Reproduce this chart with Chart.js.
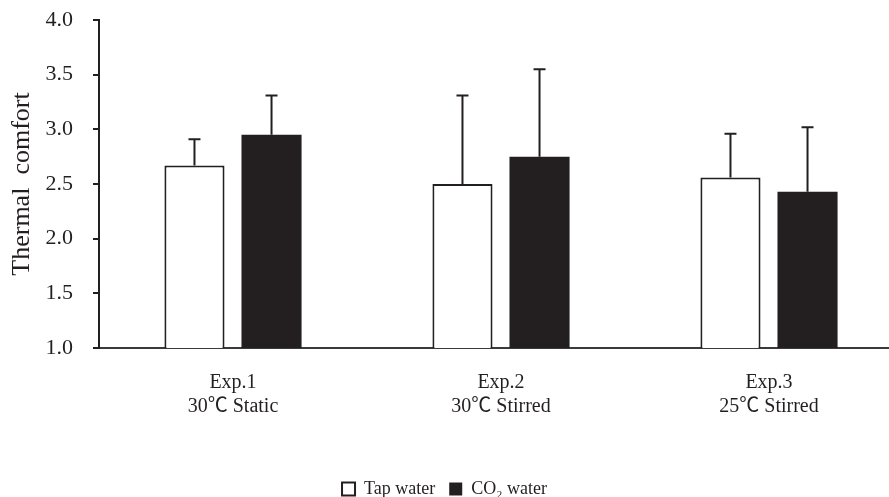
<!DOCTYPE html>
<html>
<head>
<meta charset="utf-8">
<script src="https://cdn.jsdelivr.net/npm/chart.js@4.4.0/dist/chart.umd.min.js"></script>
<style>
  html, body { margin: 0; padding: 0; background: #ffffff; overflow: hidden; }
  #wrap { width: 889px; height: 497px; position: relative; }
</style>
</head>
<body>
<div id="wrap"><canvas id="c" width="889" height="497"></canvas></div>
<script>
// ---- data ----
const categories = [["Exp.1", "30\u2103 Static"], ["Exp.2", "30\u2103 Stirred"], ["Exp.3", "25\u2103 Stirred"]];
const seriesNames = ["Tap water", "CO\u2082 water"];
const tapWater = [2.67, 2.50, 2.56];
const tapWaterErr = [0.24, 0.81, 0.40];
const co2Water = [2.95, 2.75, 2.43];
const co2WaterErr = [0.36, 0.80, 0.59];
const yTicks = [1.0, 1.5, 2.0, 2.5, 3.0, 3.5, 4.0];

const INK = '#231f20';
const FONT = "'Liberation Serif', 'Noto Sans CJK JP', 'Times New Roman', serif";

// error bars drawn from the bar elements and the y scale
const errorBars = {
  id: 'errorBars',
  afterDatasetsDraw(chart) {
    const ctx = chart.ctx;
    const y = chart.scales.y;
    chart.data.datasets.forEach((ds, di) => {
      const meta = chart.getDatasetMeta(di);
      meta.data.forEach((bar, i) => {
        const top = y.getPixelForValue(ds.data[i] + ds.errors[i]);
        ctx.save();
        ctx.strokeStyle = INK;
        ctx.lineWidth = 2;
        ctx.beginPath();
        ctx.moveTo(bar.x, bar.y);
        ctx.lineTo(bar.x, top);
        ctx.moveTo(bar.x - 6, top);
        ctx.lineTo(bar.x + 6, top);
        ctx.stroke();
        ctx.restore();
      });
    });
  }
};

// the original plot area extends past the cropped right edge
const widenCategoryAxis = {
  id: 'widenCategoryAxis',
  afterLayout(chart) {
    const x = chart.scales.x;
    const len = 804;
    x._length = len;
    x._endPixel = x._startPixel + len;
  }
};

new Chart(document.getElementById('c'), {
  type: 'bar',
  data: {
    labels: categories,
    datasets: [
      {
        label: seriesNames[0],
        data: tapWater,
        errors: tapWaterErr,
        backgroundColor: '#ffffff',
        borderColor: INK,
        borderWidth: 2,
        borderSkipped: false,
        categoryPercentage: 0.575,
        barPercentage: 0.78
      },
      {
        label: seriesNames[1],
        data: co2Water,
        errors: co2WaterErr,
        backgroundColor: INK,
        borderColor: INK,
        borderWidth: 0,
        categoryPercentage: 0.575,
        barPercentage: 0.78
      }
    ]
  },
  options: {
    responsive: false,
    animation: false,
    devicePixelRatio: 1,
    layout: { padding: { top: 20, right: 0, bottom: -11, left: 0 } },
    plugins: {
      legend: {
        position: 'bottom',
        labels: {
          color: INK,
          font: { family: FONT, size: 18 },
          boxWidth: 13,
          boxHeight: 13,
          padding: 14
        }
      },
      tooltip: { enabled: false }
    },
    scales: {
      x: {
        grid: { display: false, drawTicks: false },
        border: { display: true, color: '#3a3a3a', width: 2 },
        ticks: {
          color: INK,
          font: { family: FONT, size: 20, lineHeight: 1.2 },
          padding: 23,
          maxRotation: 0,
          autoSkip: false
        },
        afterFit(scale) { scale.height = 118; }
      },
      y: {
        min: 1,
        max: 4,
        afterBuildTicks(scale) { scale.ticks = yTicks.map(v => ({ value: v })); },
        grid: { display: true, drawOnChartArea: false, drawTicks: true, tickLength: 6, color: INK, lineWidth: 2 },
        border: { display: true, color: INK, width: 2 },
        ticks: {
          color: INK,
          font: { family: FONT, size: 22 },
          padding: 20,
          callback: (v) => Number(v).toFixed(1)
        },
        title: {
          display: true,
          text: 'Thermal  comfort',
          color: INK,
          font: { family: FONT, size: 26 },
          padding: { top: 7, bottom: 0 }
        },
        afterFit(scale) {
          scale.width = 99;
          scale.paddingTop = 0;
          scale.paddingBottom = 0;
        }
      }
    }
  },
  plugins: [errorBars, widenCategoryAxis]
});
</script>
</body>
</html>
